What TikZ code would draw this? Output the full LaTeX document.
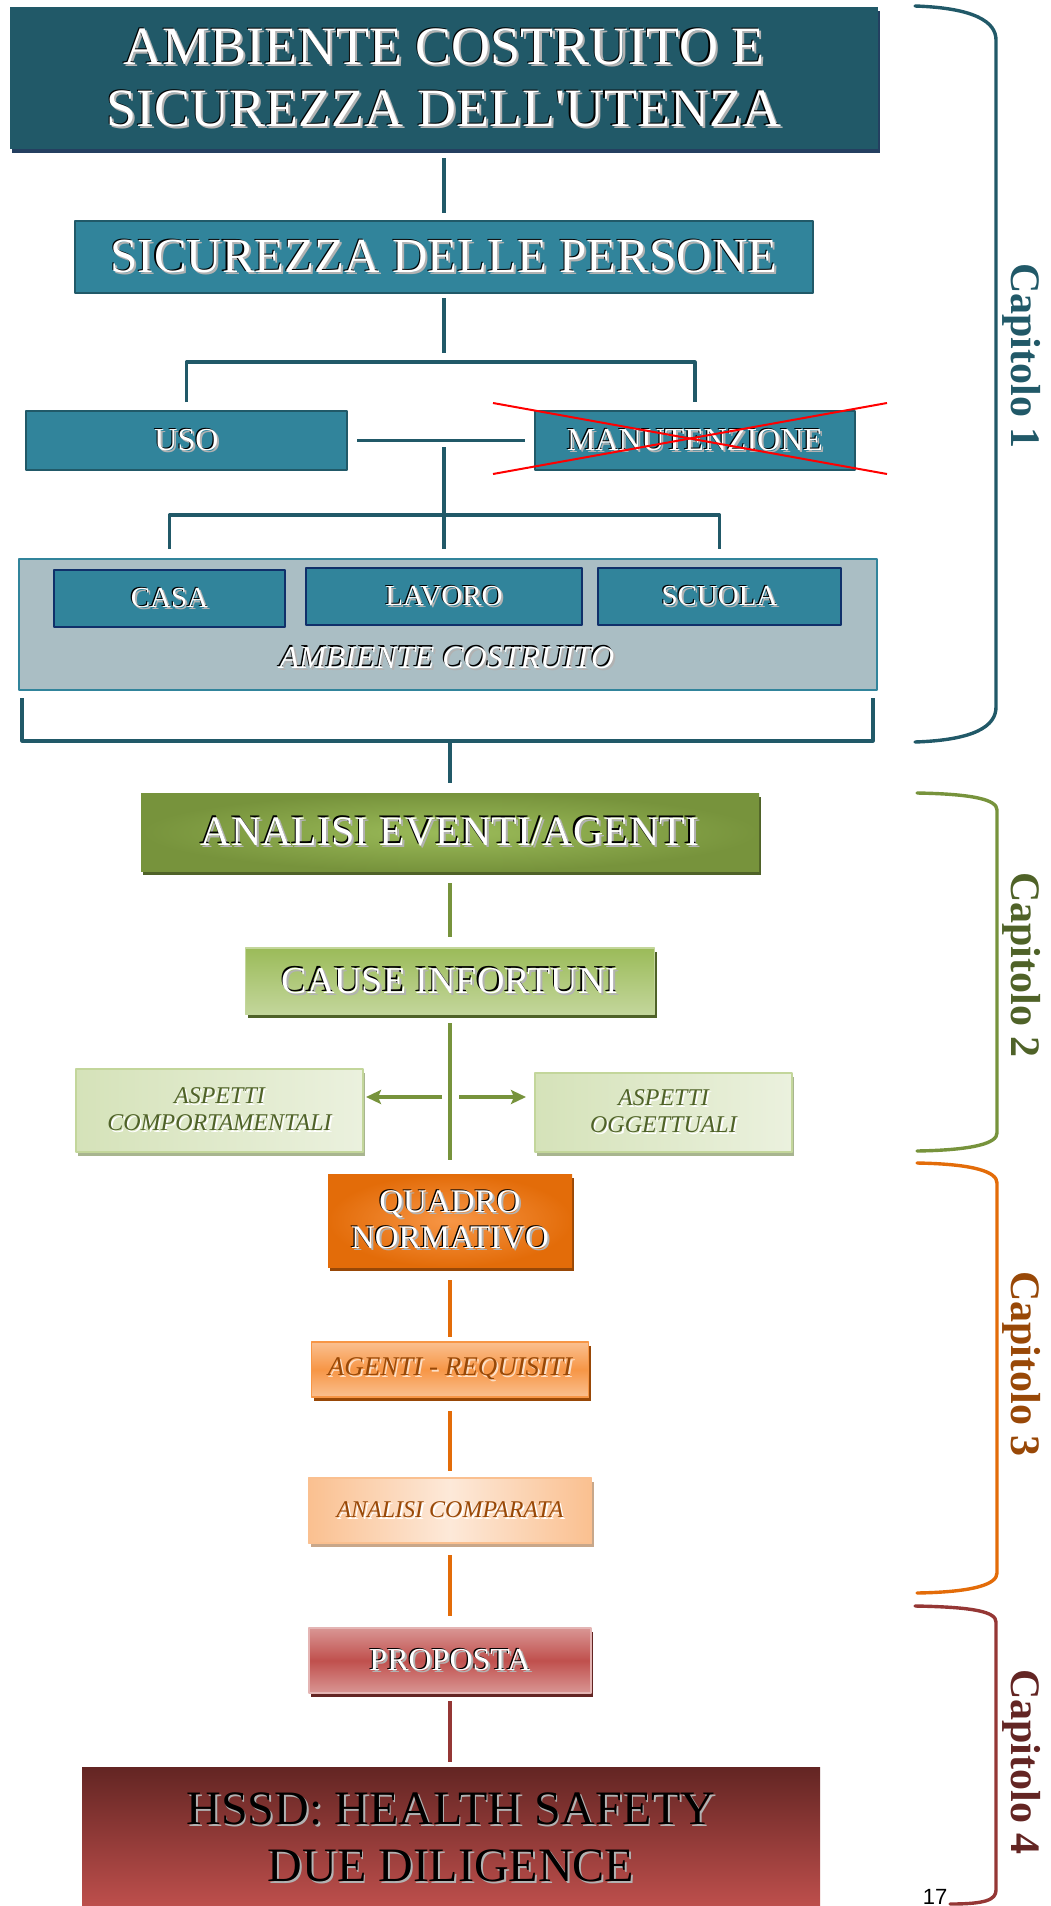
\documentclass[tikz,border=0pt]{standalone}
\usepackage{fontspec}
\setmainfont{Liberation Serif}
\newfontfamily\pagefont{Liberation Sans}
\usetikzlibrary{shadows,arrows.meta}
\definecolor{tealdk}{HTML}{215968}
\definecolor{tealmd}{HTML}{31849B}
\definecolor{navyln}{HTML}{10306A}
\definecolor{navysh}{HTML}{243F60}
\definecolor{greyblue}{HTML}{AABEC4}
\definecolor{olive}{HTML}{77933C}
\definecolor{olivedk}{HTML}{4F6228}
\definecolor{olivemd}{HTML}{9BBB59}
\definecolor{olivelt}{HTML}{C3D69B}
\definecolor{olivext}{HTML}{EBF1DE}
\definecolor{olivesh}{HTML}{A8B58F}
\definecolor{orng}{HTML}{E36C09}
\definecolor{orngmd}{HTML}{F79646}
\definecolor{orngdk}{HTML}{984807}
\definecolor{ornglt}{HTML}{FAC090}
\definecolor{orngxt}{HTML}{FDE9D9}
\definecolor{tansh}{HTML}{C8A78A}
\definecolor{redmd}{HTML}{C0504D}
\definecolor{redlt}{HTML}{D99694}
\definecolor{reddk}{HTML}{632523}
\definecolor{redln}{HTML}{953735}
\newcommand{\whemb}[1]{\leavevmode\rlap{\kern1pt\raisebox{-1pt}{\color{black!30}#1}}\rlap{\kern-.6pt\raisebox{.6pt}{\color{black}#1}}{\color{white}#1}}
\newcommand{\dkemb}[2]{\leavevmode\rlap{\kern.9pt\raisebox{-.9pt}{\color{#2}#1}}#1}
\begin{document}
\begin{tikzpicture}[x=.5pt, y=-.5pt, line join=round,
	box/.style={rectangle, inner sep=0pt, outer sep=0pt, align=center},
	shad/.style={drop shadow={shadow xshift=1.2pt, shadow yshift=-2pt, fill=#1, opacity=1}},
	tealbox/.style={box, fill=tealmd, draw=tealdk, line width=.6pt},
	roombox/.style={box, fill=tealmd, draw=navyln, line width=1pt, minimum height=28.5pt, font=\fontsize{14.5}{17}\selectfont},
	aspbox/.style={box, left color=olivelt!70, right color=olivext, draw=olivelt, line width=.8pt, shad=olivesh, text=olivedk, font=\itshape\fontsize{12}{13.5}\selectfont},
	cone/.style={draw=tealdk, line width=1.6pt},
	ctwo/.style={draw=olive, line width=1.6pt},
	cthree/.style={draw=orng, line width=1.6pt},
	cfour/.style={draw=redln, line width=1.6pt},
	brace/.style={line width=1.7pt, line cap=round},
	capt/.style={rotate=-90, inner sep=0pt, font=\bfseries\fontsize{21}{25}\selectfont},
	>={Stealth[length=7.5pt,width=7pt,inset=1.5pt]}]
	\useasboundingbox (0,0) rectangle (1050,1906);
	\node[box, fill=tealdk, shad=navysh, minimum width=434pt, minimum height=71pt, font=\fontsize{27}{31}\selectfont] (top) at (444,78) {\whemb{AMBIENTE COSTRUITO E}\\\whemb{SICUREZZA DELL\textquotesingle UTENZA}};
	\node[tealbox, minimum width=369pt, minimum height=36pt, font=\fontsize{24.5}{28}\selectfont] (sic) at (444,257) {\whemb{SICUREZZA DELLE PERSONE}};
	\node[tealbox, minimum width=160.5pt, minimum height=29.5pt, font=\fontsize{16}{19}\selectfont] (uso) at (186.5,440.5) {\whemb{USO}};
	\node[tealbox, minimum width=160pt, minimum height=29.5pt, font=\fontsize{16}{19}\selectfont] (man) at (695,440.5) {\whemb{MANUTENZIONE}};
	\draw[red, line width=1pt] ([xshift=-21pt,yshift=4pt]man.north west) -- ([xshift=16pt,yshift=-2pt]man.south east);
	\draw[red, line width=1pt] ([xshift=-21pt,yshift=-2pt]man.south west) -- ([xshift=16pt,yshift=4pt]man.north east);
	\node[box, fill=greyblue, draw=tealmd, line width=.6pt, minimum width=429pt, minimum height=65.5pt] (amb) at (448,624.5) {};
	\node[roombox, minimum width=115.5pt] (casa) at (169.5,598.5) {\whemb{CASA}};
	\node[roombox, minimum width=138pt] (lavoro) at (444,596.5) {\whemb{LAVORO}};
	\node[roombox, minimum width=121.5pt] (scuola) at (719.5,596.5) {\whemb{SCUOLA}};
	\node[box, font=\itshape\fontsize{16}{19}\selectfont] (ambtxt) at (447,658) {\whemb{AMBIENTE COSTRUITO}};
	\coordinate (j1) at (444,362);
	\coordinate (j2a) at (444,447);
	\coordinate (j2) at (444,515);
	\coordinate (bk) at (450,741);
	\draw[cone, shorten <=4.5pt, shorten >=4pt] (top) -- (sic);
	\draw[cone, shorten <=2.5pt, shorten >=4.5pt] (sic) -- (j1);
	\draw[cone] ([yshift=4.5pt]uso.north) |- (j1) -| ([yshift=4.5pt]man.north);
	\draw[cone, shorten <=5pt, shorten >=5pt] (uso) -- (man);
	\draw[cone] (j2a) -- ([yshift=5pt]amb.north -| j2a);
	\draw[cone] ([yshift=5pt]amb.north -| casa) |- (j2) -| ([yshift=5pt]amb.north -| scuola);
	\draw[cone] ([xshift=1.5pt,yshift=-4pt]amb.south west) |- (bk) -| ([xshift=-2pt,yshift=-4pt]amb.south east);

	\node[box, shading=radial, inner color=olivemd, outer color=olive, shad=olivedk, minimum width=309pt, minimum height=39pt, font=\fontsize{21}{25}\selectfont] (analisi) at (450,832) {\whemb{ANALISI EVENTI/AGENTI}};
	\node[box, top color=olivemd, bottom color=olivelt, draw=olivelt, line width=.8pt, shad=olivedk, minimum width=204.5pt, minimum height=33pt, font=\fontsize{19}{22}\selectfont] (cause) at (450,981) {\whemb{CAUSE INFORTUNI}};
	\node[aspbox, minimum width=143.5pt, minimum height=41.5pt] (comp) at (219.5,1110.5) {\dkemb{ASPETTI}{white}\\\dkemb{COMPORTAMENTALI}{white}};
	\node[aspbox, minimum width=128.5pt, minimum height=39.5pt] (ogg) at (663.5,1112.5) {\dkemb{ASPETTI}{white}\\\dkemb{OGGETTUALI}{white}};
	\coordinate (al) at (442,1097);
	\coordinate (ar) at (459,1097);
	\coordinate (cend) at (450,1160);
	\draw[cone, shorten >=5pt] (bk) -- (analisi);
	\draw[ctwo, shorten <=6pt, shorten >=5.5pt] (analisi) -- (cause);
	\draw[ctwo, shorten <=4.5pt] (cause) -- (cend);
	\draw[ctwo, ->, shorten >=1.5pt] (al) -- (al -| comp.east);
	\draw[ctwo, ->, shorten >=4.5pt] (ar) -- (ar -| ogg.west);

	\node[box, shading=radial, inner color=orngmd, outer color=orng, shad=orngdk, minimum width=122pt, minimum height=46.5pt, font=\fontsize{16.5}{18}\selectfont] (quadro) at (450,1220.5) {\whemb{QUADRO}\\\whemb{NORMATIVO}};
	\node[box, top color=ornglt, bottom color=ornglt, middle color=orngmd, draw=orngmd, line width=.8pt, shad=orngdk, minimum width=138.5pt, minimum height=27.5pt, text=orngdk, font=\itshape\fontsize{13.5}{16}\selectfont] (agenti) at (450,1369.5) {\dkemb{AGENTI - REQUISITI}{ornglt!50!white}};
	\node[box, left color=ornglt, right color=ornglt, middle color=orngxt, draw=ornglt, line width=.8pt, shad=tansh, minimum width=141.5pt, minimum height=32.5pt, text=orngdk, font=\itshape\fontsize{12}{14}\selectfont] (comparata) at (450,1510.5) {\dkemb{ANALISI COMPARATA}{white}};
	\node[box, top color=redlt, bottom color=redlt, middle color=redmd, draw=redlt!70!white, line width=.6pt, shad=reddk, minimum width=141pt, minimum height=32.5pt, font=\fontsize{16}{19}\selectfont] (proposta) at (450,1660.5) {\whemb{PROPOSTA}};
	\node[box, top color=reddk, bottom color=redmd, minimum width=369pt, minimum height=71.5pt, font=\fontsize{24}{28.5}\selectfont] (hssd) at (451,1838.5) {\dkemb{HSSD: HEALTH SAFETY}{black!30}\\\dkemb{DUE DILIGENCE}{black!30}};
	\draw[cthree, shorten <=6.5pt, shorten >=2.5pt] (quadro) -- (agenti);
	\draw[cthree, shorten <=7pt, shorten >=3.5pt] (agenti) -- (comparata);
	\draw[cthree, shorten <=6pt, shorten >=6pt] (comparata) -- (proposta);
	\draw[cfour, shorten <=4pt, shorten >=2.5pt] (proposta) -- (proposta |- hssd.north);

	\draw[brace, tealdk] (915,6) .. controls (975,8) and (996,22) .. (996,40) -- (996,707) .. controls (996,726) and (975,740) .. (915,742);
	\draw[brace, olive] (917,793) .. controls (975,794) and (997,800) .. (997,810) -- (997,1133) .. controls (997,1143) and (975,1150) .. (917,1151);
	\draw[brace, orng] (917,1163) .. controls (975,1164) and (997,1172) .. (997,1183) -- (997,1573) .. controls (997,1584) and (975,1592) .. (917,1593);
	\draw[brace, redln] (915,1606) .. controls (975,1607) and (996,1612) .. (996,1622) -- (996,1890) .. controls (996,1900) and (985,1904) .. (950,1904);
	\node[capt, text=tealdk] (cap1) at (1022,356) {Capitolo 1};
	\node[capt, text=olivedk] (cap2) at (1022,965) {Capitolo 2};
	\node[capt, text=orngdk] (cap3) at (1022,1364) {Capitolo 3};
	\node[capt, text=reddk] (cap4) at (1022,1762) {Capitolo 4};
	\node[inner sep=0pt, anchor=base, font=\pagefont\fontsize{11}{13}\selectfont] (pg) at (935,1904) {17};
\end{tikzpicture}
\end{document}
